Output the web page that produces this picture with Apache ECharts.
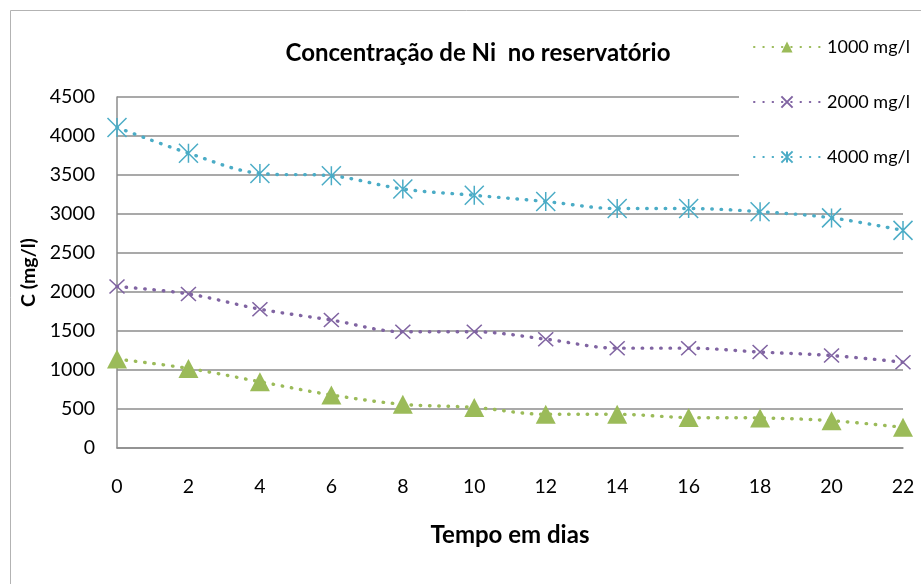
<!DOCTYPE html>
<html>
<head>
<meta charset="utf-8">
<title>Concentração de Ni no reservatório</title>
<script src="https://cdn.jsdelivr.net/npm/echarts@6/dist/echarts.min.js"></script>
<style>
  html, body { margin: 0; padding: 0; background: #fff; }
  #chart { width: 921px; height: 584px; }
</style>
</head>
<body>
<div id="chart"></div>
<script>
// Tempo (dias) and measured Ni concentration (mg/l) for each initial dose
const days = [0, 2, 4, 6, 8, 10, 12, 14, 16, 18, 20, 22];
const conc1000 = [1140, 1020, 850, 680, 560, 520, 432, 432, 390, 385, 350, 265];
const conc2000 = [2070, 1975, 1780, 1640, 1490, 1490, 1395, 1280, 1280, 1230, 1185, 1100];
const conc4000 = [4110, 3780, 3520, 3490, 3320, 3240, 3160, 3070, 3070, 3030, 2950, 2790];
const seriesNames = ['1000 mg/l', '2000 mg/l', '4000 mg/l'];
const yTicks = { min: 0, max: 4500, step: 500 };
const xTicks = { min: 0, max: 22, step: 2 };

const FONT = 'Lato';
const GRID_GRAY = '#8c8c8c';

const pairs = (vals) => days.map((d, i) => [d, vals[i]]);

function dottedSeries(name, vals, color, symbol, symbolSize, stroked) {
  return {
    name: name,
    type: 'line',
    data: pairs(vals),
    smooth: 0.35,
    symbol: symbol,
    symbolSize: symbolSize,
    showAllSymbol: true,
    lineStyle: { color: color, width: 3.4, type: [0.5, 8.8], cap: 'round' },
    itemStyle: stroked
      ? { color: color, borderColor: color, borderWidth: 1.5 }
      : { color: color, borderWidth: 0 },
    emphasis: { disabled: true },
    z: 3
  };
}

const chart = echarts.init(document.getElementById('chart'), null, { renderer: 'canvas' });

chart.setOption({
  animation: false,
  backgroundColor: '#fff',
  textStyle: { fontFamily: FONT },
  title: {
    text: 'Concentração de Ni  no reservatório',
    left: 473,
    textAlign: 'center',
    top: 36,
    textStyle: { fontFamily: FONT, fontSize: 24, fontWeight: 'bold', color: '#000' }
  },
  graphic: [{
    type: 'rect',
    shape: { x: 10.5, y: 10.5, width: 940, height: 600 },
    style: { fill: 'none', stroke: '#b3b3b3', lineWidth: 1 },
    silent: true,
    z: 0
  }],
  legend: {
    orient: 'vertical',
    left: 739,
    top: 20,
    padding: [18, 12, 18, 14],
    backgroundColor: '#fff',
    itemWidth: 66,
    itemHeight: 14,
    itemGap: 37,
    selectedMode: false,
    data: seriesNames,
    textStyle: { fontFamily: FONT, fontSize: 18, color: '#000', padding: [0, 0, 0, 2] },
    z: 5
  },
  grid: { left: 117, right: 18, top: 97, bottom: 136, containLabel: false },
  xAxis: {
    type: 'value',
    min: xTicks.min,
    max: xTicks.max,
    interval: xTicks.step,
    name: 'Tempo em dias',
    nameLocation: 'middle',
    nameGap: 75,
    nameTextStyle: { fontFamily: FONT, fontSize: 24, fontWeight: 'bold', color: '#000' },
    axisLine: { show: true, lineStyle: { color: GRID_GRAY, width: 1.5 } },
    axisTick: { show: false },
    splitLine: { show: false },
    axisLabel: { margin: 29, fontFamily: FONT, fontSize: 19.5, color: '#000' }
  },
  yAxis: {
    type: 'value',
    min: yTicks.min,
    max: yTicks.max,
    interval: yTicks.step,
    name: 'C (mg/l)',
    nameLocation: 'middle',
    nameRotate: 90,
    nameGap: 78,
    nameTextStyle: { fontFamily: FONT, fontSize: 19.5, fontWeight: 'bold', color: '#000' },
    axisLine: { show: true, lineStyle: { color: GRID_GRAY, width: 1.5 } },
    axisTick: { show: false },
    splitLine: { show: true, lineStyle: { color: GRID_GRAY, width: 1.5 } },
    axisLabel: {
      margin: 22,
      fontFamily: FONT,
      fontSize: 19.5,
      color: '#000',
      formatter: (v) => String(v)
    }
  },
  series: [
    dottedSeries(seriesNames[0], conc1000, '#9BBB59', 'triangle', [20, 19], false),
    dottedSeries(seriesNames[1], conc2000, '#8064A2', 'path://M0,0L10,10M10,0L0,10', [15, 14], true),
    dottedSeries(seriesNames[2], conc4000, '#4BACC6', 'path://M0,0L10,10M10,0L0,10M5,0L5,10', [19, 19], true)
  ]
});
</script>
</body>
</html>
